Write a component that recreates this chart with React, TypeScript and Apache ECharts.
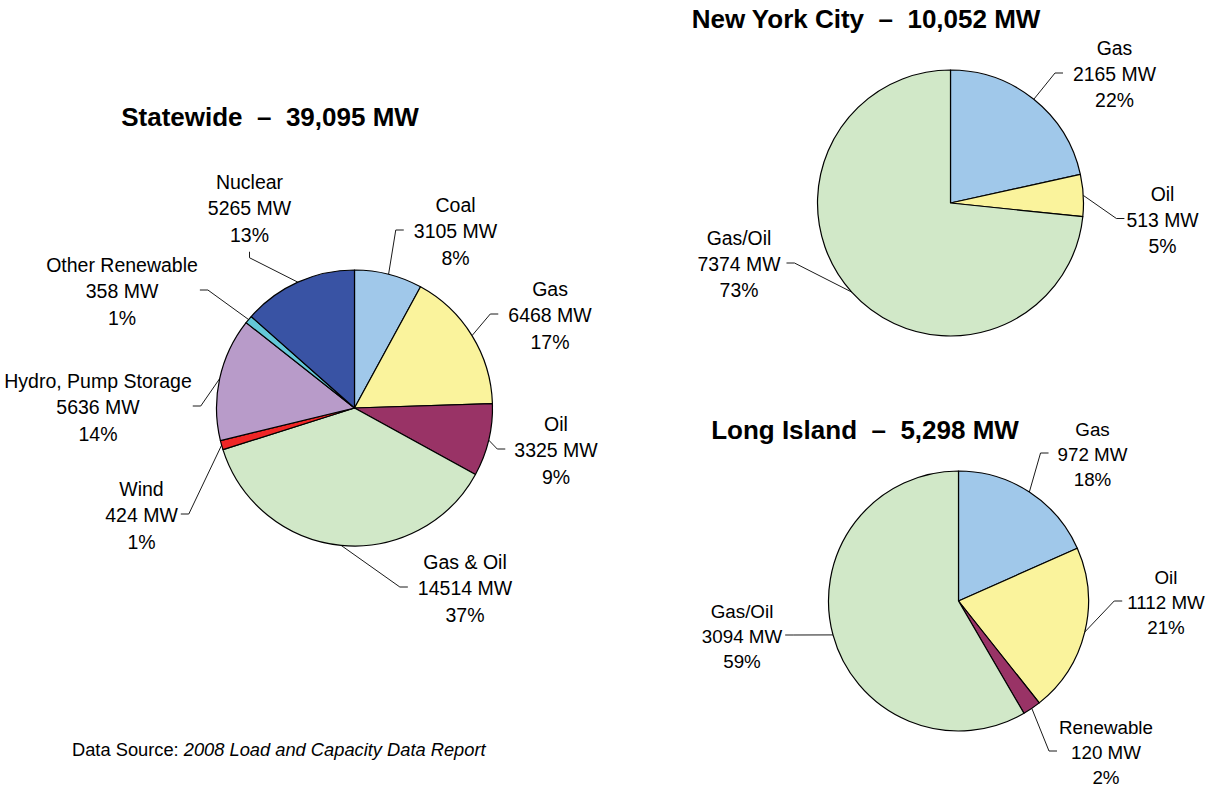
import React, { useEffect, useRef } from 'react';
import * as echarts from 'echarts';

const FONT = "'Liberation Sans', Arial, Helvetica, sans-serif";

// ---------- data ----------
const statewideNames = ['Coal', 'Gas', 'Oil', 'Gas & Oil', 'Wind', 'Hydro, Pump Storage', 'Other Renewable', 'Nuclear'];
const statewideValues = [3105, 6468, 3325, 14514, 424, 5636, 358, 5265];
const statewidePercents = [8, 17, 9, 37, 1, 14, 1, 13];

const nycNames = ['Gas', 'Oil', 'Gas/Oil'];
const nycValues = [2165, 513, 7374];
const nycPercents = [22, 5, 73];

const liNames = ['Gas', 'Oil', 'Renewable', 'Gas/Oil'];
const liValues = [972, 1112, 120, 3094];
const liPercents = [18, 21, 2, 59];

const titleTexts = ['Statewide  \u2013  39,095 MW', 'New York City  \u2013  10,052 MW', 'Long Island  \u2013  5,298 MW'];
const sourcePrefix = 'Data Source: ';
const sourceReport = '2008 Load and Capacity Data Report';

// ---------- colours ----------
const C_BLUE = '#a0c8ea';
const C_YELLOW = '#faf39c';
const C_MAROON = '#993366';
const C_GREEN = '#d1e8c8';
const C_RED = '#f02626';
const C_LAVENDER = '#b89bc9';
const C_CYAN = '#64c8d8';
const C_NAVY = '#3953a4';

const statewideColors = [C_BLUE, C_YELLOW, C_MAROON, C_GREEN, C_RED, C_LAVENDER, C_CYAN, C_NAVY];
const nycColors = [C_BLUE, C_YELLOW, C_GREEN];
const liColors = [C_BLUE, C_YELLOW, C_MAROON, C_GREEN];

// ---------- layout (label centre x, middle-line y, side the leader attaches to, gap) ----------
type Side = 'left' | 'right' | 'bottom';
type Pos = [number, number, Side, number];

const statewideLabelPos: Pos[] = [
  [455.5, 231, 'left', 10],
  [550, 315, 'left', 10],
  [556, 450, 'left', 9],
  [465, 588, 'left', 10],
  [141.5, 515, 'right', 3],
  [98, 407, 'right', 1],
  [122, 291, 'right', 2],
  [249.5, 208, 'bottom', 4],
];
const nycLabelPos: Pos[] = [
  [1114.5, 74, 'left', 10],
  [1162.5, 219.5, 'left', 2],
  [739, 264, 'right', 6],
];
const liLabelPos: Pos[] = [
  [1092.5, 454, 'left', 9],
  [1166, 602, 'left', 5],
  [1106, 752, 'left', 2],
  [742, 636, 'right', 3],
];

function makeLabelLayout(pos: Pos[]) {
  return (params: any) => {
    const p = pos[params.dataIndex];
    if (!p) return {};
    const [x, y, side, gap] = p;
    const w = params.labelRect.width;
    const h = params.labelRect.height;
    const pts = params.labelLinePoints;
    const p0 = pts && pts[0] ? pts[0] : [x, y];
    let p1: number[];
    let p2: number[];
    const ly = y - 1;
    if (side === 'left') {
      p2 = [x - w / 2 - gap, ly];
      p1 = [p2[0] - 8, ly];
    } else if (side === 'right') {
      p2 = [x + w / 2 + gap, ly];
      p1 = [p2[0] + 8, ly];
    } else {
      p2 = [x, y + h / 2 + gap];
      p1 = [x, p2[1] + 6];
    }
    return {
      x,
      y,
      align: 'center',
      verticalAlign: 'middle',
      labelLinePoints: [p0, p1, p2],
    };
  };
}

function pieSeries(
  names: string[],
  values: number[],
  percents: number[],
  colors: string[],
  center: [number, number],
  radius: number,
  pos: Pos[],
  fontSize: number,
  lineHeight: number
) {
  return {
    type: 'pie',
    center,
    radius,
    startAngle: 90,
    clockwise: true,
    avoidLabelOverlap: false,
    silent: true,
    data: names.map((n, i) => ({ name: n, value: values[i], itemStyle: { color: colors[i] } })),
    itemStyle: { borderColor: '#000', borderWidth: 1.2 },
    label: {
      show: true,
      position: 'outside',
      overflow: 'none',
      color: '#000',
      fontFamily: FONT,
      fontSize,
      lineHeight,
      formatter: (p: any) => `${p.name}\n${p.value} MW\n${percents[p.dataIndex]}%`,
    },
    labelLine: {
      show: true,
      length: 10,
      length2: 10,
      lineStyle: { color: '#1a1a1a', width: 1 },
    },
    labelLayout: makeLabelLayout(pos),
    emphasis: { disabled: true },
  };
}

export default function App() {
  const ref = useRef<HTMLDivElement>(null);
  useEffect(() => {
    if (!ref.current) return;
    const chart = echarts.init(ref.current, null, { renderer: 'svg' });
    const titleStyle = {
      fontSize: 26,
      fontWeight: 'bold',
      fontFamily: FONT,
      fill: '#000',
      align: 'center',
      verticalAlign: 'middle',
    };
    chart.setOption({
      animation: false,
      backgroundColor: '#ffffff',
      series: [
        pieSeries(statewideNames, statewideValues, statewidePercents, statewideColors, [354.5, 408], 138, statewideLabelPos, 19.5, 26.5),
        pieSeries(nycNames, nycValues, nycPercents, nycColors, [950.5, 203], 133, nycLabelPos, 19.4, 26),
        pieSeries(liNames, liValues, liPercents, liColors, [958.5, 601], 130, liLabelPos, 18.8, 25),
      ],
      graphic: [
        { type: 'text', x: 270, y: 117, style: { ...titleStyle, text: titleTexts[0] } },
        { type: 'text', x: 866, y: 19, style: { ...titleStyle, text: titleTexts[1] } },
        { type: 'text', x: 865, y: 430, style: { ...titleStyle, text: titleTexts[2] } },
        {
          type: 'text',
          x: 72,
          y: 749.5,
          style: {
            text: `${sourcePrefix}{i|${sourceReport}}`,
            fontSize: 18.3,
            fontFamily: FONT,
            fill: '#000',
            align: 'left',
            verticalAlign: 'middle',
            rich: { i: { fontStyle: 'italic', fontSize: 18.3, fontFamily: FONT, fill: '#000' } },
          },
        },
      ],
    });
    return () => chart.dispose();
  }, []);
  return (
    <div
      ref={ref}
      style={{ position: 'absolute', left: 0, top: 0, width: 1210, height: 787, background: '#fff' }}
    />
  );
}
